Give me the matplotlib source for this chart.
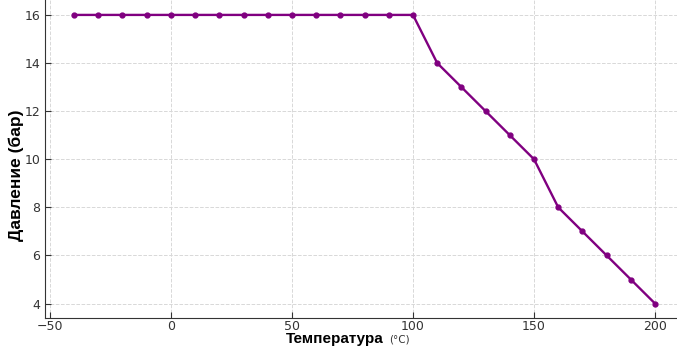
import matplotlib.pyplot as plt

# Temperature vs pressure data
temperature = [-40, -30, -20, -10, 0, 10, 20, 30, 40, 50, 60, 70, 80, 90, 100,
               110, 120, 130, 140, 150, 160, 170, 180, 190, 200]
pressure = [16, 16, 16, 16, 16, 16, 16, 16, 16, 16, 16, 16, 16, 16, 16,
            14, 13, 12, 11, 10, 8, 7, 6, 5, 4]
x_ticks = [-50, 0, 50, 100, 150, 200]
y_ticks = [4, 6, 8, 10, 12, 14, 16]

fig = plt.figure(figsize=(6.77, 3.47), dpi=100)
ax = fig.add_axes([0.0665, 0.0836, 0.944, 0.915])

ax.plot(temperature, pressure, color='purple', linewidth=1.7,
        marker='o', markersize=3.5)

ax.set_xlim(-52, 212)
ax.set_ylim(3.4, 16.6)
ax.set_xticks(x_ticks)
ax.set_yticks(y_ticks)
ax.tick_params(direction='in', labelsize=9, colors='#333333', length=4)
ax.tick_params(axis='x', pad=1.5)
ax.grid(True, linestyle='--', color='#d8d8d8', linewidth=0.7)

ax.spines['top'].set_visible(False)
ax.spines['right'].set_visible(False)
ax.spines['left'].set_color('#333333')
ax.spines['bottom'].set_color('#333333')

# axis labels, placed by hand like the original
fig.text(16 / 677, 1 - 175 / 347, 'Давление (бар)', family='Liberation Sans',
         fontsize=12.5, fontweight='bold', rotation=90, ha='center', va='center')
fig.text(384 / 677, 1 - 343 / 347, 'Температура', family='Liberation Sans',
         fontsize=11, fontweight='bold', ha='right', va='baseline')
fig.text(389 / 677, 1 - 343 / 347, '(°C)', fontsize=7.5, ha='left',
         va='baseline', color='#333333')

plt.savefig('out.png', dpi=100)
